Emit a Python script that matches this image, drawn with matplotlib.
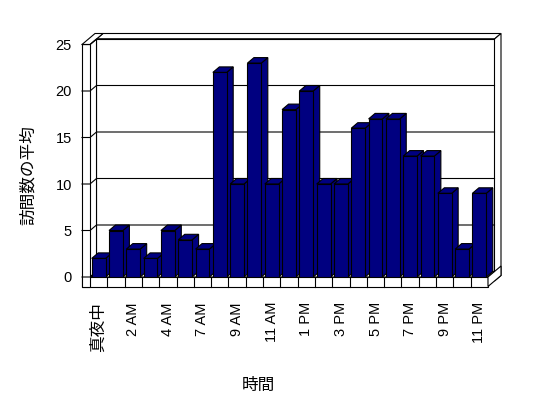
import numpy as np
import matplotlib
matplotlib.use('Agg')
import matplotlib.pyplot as plt
from matplotlib.patches import Polygon

plt.rcParams['font.family'] = ['Liberation Sans', 'Noto Sans CJK JP', 'DejaVu Sans']

# average visits per hour of day
hours = ['真夜中', '1 AM', '2 AM', '3 AM', '4 AM', '5 AM', '7 AM', '8 AM',
         '9 AM', '10 AM', '11 AM', '12 PM', '1 PM', '2 PM', '3 PM', '4 PM',
         '5 PM', '6 PM', '7 PM', '8 PM', '9 PM', '10 PM', '11 PM']
visits = [2, 5, 3, 2, 5, 4, 3, 22, 10, 23, 10, 18, 20, 10, 10, 16, 17, 17,
          13, 13, 9, 3, 9]
y_ticks = [0, 5, 10, 15, 20, 25]

navy = '#000080'
n = len(hours)
ymax = y_ticks[-1]

fig = plt.figure(figsize=(5.48, 3.98), dpi=100)
ax = fig.add_axes([90/548, 121/398, 398/548, 232.5/398])
ax.set_xlim(-0.5, n - 0.5)
ax.set_ylim(0, ymax)
for s in ax.spines.values() :
	s.set_visible(False)

# pseudo 3d depth, in data units
px_x = 398 / n
px_y = 232.5 / ymax
dx, dy = 6.5 / px_x, 5.5 / px_y
k = 1.0                 # back wall thickness (in depths)
tl = 8 / px_x           # left wall thickness
tf = 9.5 / px_y         # floor thickness
x0, x1 = -0.5, n - 0.5

def proj(x, y, z) :
	return (x + z*dx, y + z*dy)

def face(pts, z=1, fc='white') :
	p = Polygon([proj(*q) for q in pts], closed=True, facecolor=fc,
		edgecolor='black', linewidth=0.8, zorder=z, clip_on=False)
	ax.add_patch(p)

# back wall box
face([(x0, 0, 1), (x1, 0, 1), (x1, ymax, 1), (x0, ymax, 1)])
face([(x0, ymax, 1), (x1, ymax, 1), (x1, ymax, 1+k), (x0, ymax, 1+k)])
face([(x1, -tf, 1), (x1, ymax, 1), (x1, ymax, 1+k), (x1, -tf, 1+k)])
# floor box
face([(x0, 0, 0), (x1, 0, 0), (x1, 0, 1), (x0, 0, 1)])
face([(x0-tl, -tf, 0), (x1, -tf, 0), (x1, 0, 0), (x0-tl, 0, 0)])
face([(x1, -tf, 0), (x1, -tf, 1+k), (x1, 0, 1+k), (x1, 0, 0)])
# left wall box
face([(x0, 0, 0), (x0, 0, 1), (x0, ymax, 1), (x0, ymax, 0)])
face([(x0-tl, -tf, 0), (x0, -tf, 0), (x0, ymax, 0), (x0-tl, ymax, 0)])
face([(x0-tl, ymax, 0), (x0, ymax, 0), (x0, ymax, 1+k), (x0-tl, ymax, 1+k)])

# gridlines: left wall front, left wall inside, back wall
for v in y_ticks :
	pts = [proj(x0-tl, v, 0), proj(x0, v, 0), proj(x0, v, 1), proj(x1, v, 1)]
	xs, ys = zip(*pts)
	ax.plot(xs, ys, color='black', lw=0.8, zorder=2, clip_on=False)

# category dividers on the floor front
for i in range(1, n) :
	ax.plot([i - 0.5, i - 0.5], [-tf, 0], color='black', lw=0.8, zorder=2, clip_on=False)

# bars
w = 0.8
bars = ax.bar(np.arange(n), visits, width=w, color=navy, edgecolor='black', linewidth=0.8)
for i, (rect, v) in enumerate(zip(bars, visits)) :
	z = 3 + i
	rect.set_zorder(z + 0.5)
	l, r = i - w/2, i + w/2
	face([(r, 0, 0), (r, 0, 1), (r, v, 1), (r, v, 0)], z, navy)
	face([(l, v, 0), (r, v, 0), (r, v, 1), (l, v, 1)], z, navy)

ax.set_yticks(y_ticks)
ax.set_xticks(np.arange(0, n, 2))
ax.set_xticklabels(hours[::2], rotation=90, fontsize=10.5)
ax.get_xticklabels()[0].set_fontsize(12)
ax.tick_params(axis='y', length=0, pad=13, labelsize=10.5)
ax.tick_params(axis='x', length=0, pad=18)

fig.text(28/548, 1 - 175/398, '訪問数の平均', rotation=90, ha='center', va='center',
	fontsize=12, family=['Noto Sans CJK JP'])
fig.text(258/548, 1 - 385/398, '時間', ha='center', va='center',
	fontsize=12, family=['Noto Sans CJK JP'])

fig.savefig('out.png', dpi=100)
